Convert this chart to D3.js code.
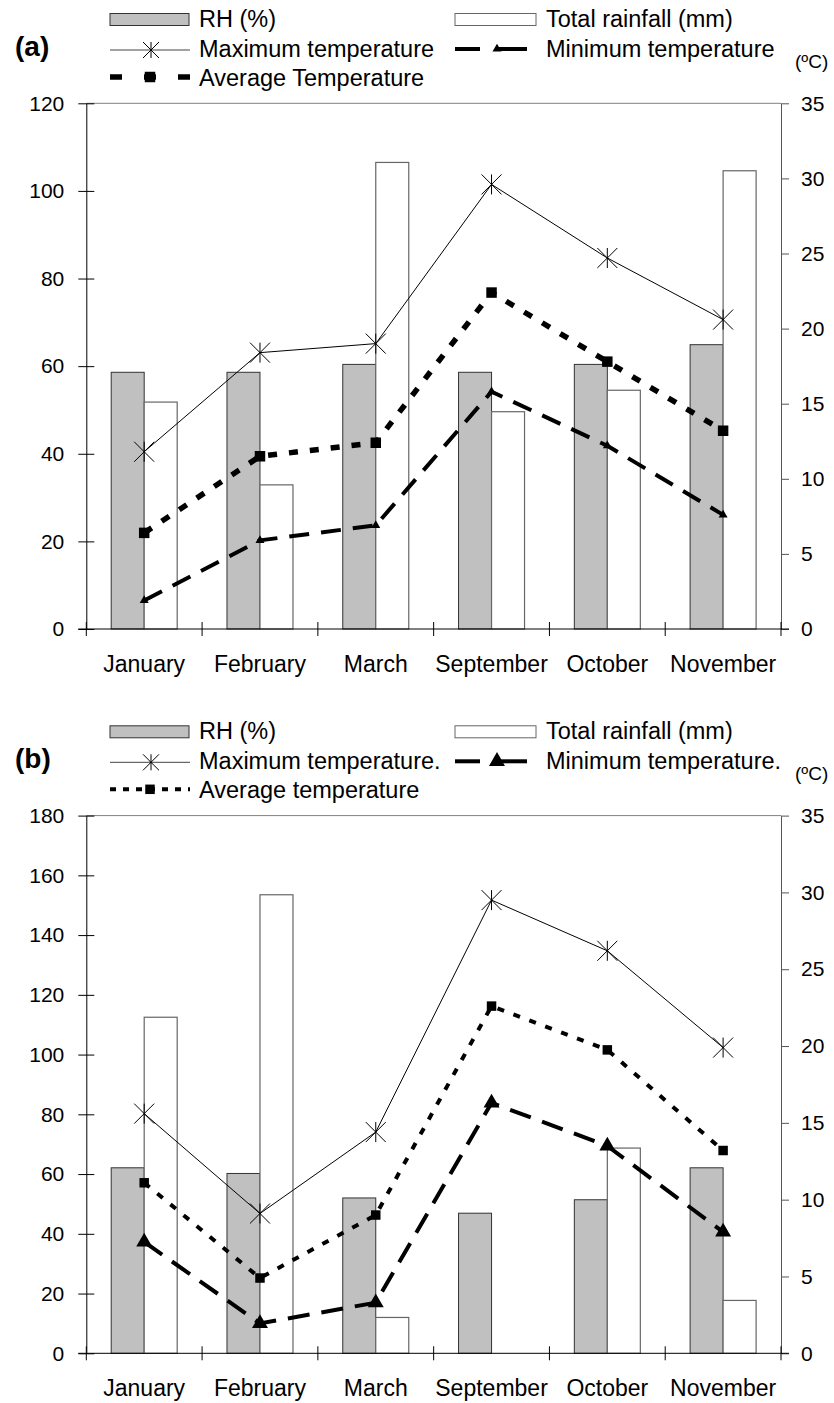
<!DOCTYPE html>
<html>
<head>
<meta charset="utf-8">
<script src="https://cdn.jsdelivr.net/npm/d3@7"></script>
<style>
  body { margin: 0; background: #fff; }
  svg { display: block; font-family: "Liberation Sans", Arial, sans-serif; }
</style>
</head>
<body>
<svg id="chart" width="834" height="1403"></svg>
<script>
// months shown on the x axis (same in both panels)
const months = ["January", "February", "March", "September", "October", "November"];

// panel (a)
const rhA = [58.6, 58.6, 60.4, 58.6, 60.4, 64.9];
const rainA = [51.8, 32.9, 106.5, 49.6, 54.5, 104.6];
const maxA = [11.8, 18.4, 19.0, 29.6, 24.7, 20.6];
const minA = [1.9, 5.9, 6.9, 15.8, 12.2, 7.6];
const avgA = [6.4, 11.5, 12.4, 22.4, 17.8, 13.2];

// panel (b)
const rhB = [62.1, 60.2, 52.0, 46.9, 51.4, 62.1];
const rainB = [112.5, 153.5, 12.0, 0, 68.7, 17.7];
const maxB = [15.6, 9.1, 14.4, 29.5, 26.2, 19.9];
const minB = [7.25, 1.94, 3.3, 16.3, 13.5, 7.9];
const avgB = [11.1, 4.9, 9.0, 22.6, 19.75, 13.2];

const leftTicksA = [0, 20, 40, 60, 80, 100, 120];
const leftTicksB = [0, 20, 40, 60, 80, 100, 120, 140, 160, 180];
const rightTicks = [0, 5, 10, 15, 20, 25, 30, 35];

const svg = d3.select("#chart");
const LEFT = 86.3, RIGHT = 781;

function starPath(r) {
  return "M" + -r + "," + -r + "L" + r + "," + r +
    "M" + -r + "," + r + "L" + r + "," + -r +
    "M0," + -r + "L0," + r;
}

function drawPanel(cfg) {
  var g = svg.append("g");
  var top = cfg.top, bottom = cfg.bottom;

  var x = d3.scaleBand().domain(months).range([LEFT, RIGHT])
    .paddingInner(0.43).paddingOuter(0.215);
  var xSub = d3.scaleBand().domain(["rh", "rain"]).range([0, x.bandwidth()]);
  var yL = d3.scaleLinear().domain([0, cfg.leftMax]).range([bottom, top]);
  var yR = d3.scaleLinear().domain([0, 35]).range([bottom, top]);
  var cx = function (m) { return x(m) + x.bandwidth() / 2; };

  // top frame line
  g.append("line")
    .attr("x1", LEFT).attr("x2", RIGHT).attr("y1", top).attr("y2", top)
    .attr("stroke", "#808080").attr("stroke-width", 1);

  // bars
  g.selectAll(".rh").data(months).join("rect")
    .attr("x", function (m) { return x(m) + xSub("rh"); })
    .attr("y", function (m, i) { return yL(cfg.rh[i]); })
    .attr("width", xSub.bandwidth())
    .attr("height", function (m, i) { return bottom - yL(cfg.rh[i]); })
    .attr("fill", "#c0c0c0").attr("stroke", "#333").attr("stroke-width", 1);

  g.selectAll(".rain").data(months.filter(function (m, i) { return cfg.rain[i] > 0; }))
    .join("rect")
    .attr("x", function (m) { return x(m) + xSub("rain"); })
    .attr("y", function (m) { return yL(cfg.rain[months.indexOf(m)]); })
    .attr("width", xSub.bandwidth())
    .attr("height", function (m) { return bottom - yL(cfg.rain[months.indexOf(m)]); })
    .attr("fill", "#fff").attr("stroke", "#666").attr("stroke-width", 1.2);

  // axes
  var axL = g.append("g").attr("transform", "translate(" + LEFT + ",0)")
    .call(d3.axisLeft(yL).tickValues(cfg.leftTicks).tickSize(8).tickPadding(14).tickSizeOuter(0));
  axL.select(".domain").attr("stroke", "#000");
  axL.selectAll(".tick line").attr("x2", 8).attr("x1", -8);

  var axR = g.append("g").attr("transform", "translate(" + RIGHT + ",0)")
    .call(d3.axisRight(yR).tickValues(rightTicks).tickSize(8).tickPadding(12).tickSizeOuter(0));
  axR.select(".domain").attr("stroke", "#555");
  axR.selectAll(".tick line").attr("stroke", "#555");

  [axL, axR].forEach(function (a) {
    a.selectAll("text").attr("font-size", 21).attr("fill", "#000")
      .attr("font-family", "Liberation Sans, Arial, sans-serif");
  });

  // x axis line and boundary ticks
  g.append("line").attr("x1", LEFT - 8).attr("x2", RIGHT + 8)
    .attr("y1", bottom).attr("y2", bottom).attr("stroke", "#000");
  var bounds = months.map(function (m) { return x(m) - x.step() * 0.215; }).concat([RIGHT]);
  g.selectAll(".xt").data(bounds).join("line")
    .attr("x1", function (d) { return d; }).attr("x2", function (d) { return d; })
    .attr("y1", bottom - 7).attr("y2", bottom + 7).attr("stroke", "#000");
  g.selectAll(".xl").data(months).join("text")
    .attr("x", cx).attr("y", bottom + 43).attr("text-anchor", "middle")
    .attr("font-size", 23).text(function (m) { return m; });

  // lines
  function series(vals, style) {
    var line = d3.line().x(function (d, i) { return cx(months[i]); })
      .y(function (d) { return yR(d); });
    g.append("path").datum(vals).attr("d", line).attr("fill", "none")
      .attr("stroke", "#000").attr("stroke-width", style.width)
      .attr("stroke-dasharray", style.dash || null);
    g.selectAll(null).data(vals).join("path")
      .attr("transform", function (d, i) { return "translate(" + cx(months[i]) + "," + yR(d) + ")"; })
      .attr("d", style.marker)
      .attr("fill", style.fill).attr("stroke", "#000").attr("stroke-width", style.mw || 0);
  }
  series(cfg.max, { width: 1, marker: starPath(10), fill: "none", mw: 1 });
  series(cfg.min, cfg.minStyle);
  series(cfg.avg, cfg.avgStyle);

  // legend
  var ly = cfg.legendY;
  var lg = g.append("g").attr("font-size", 23.5);
  lg.append("rect").attr("x", 110).attr("y", ly + 13.5).attr("width", 79).attr("height", 12)
    .attr("fill", "#c0c0c0").attr("stroke", "#333");
  lg.append("text").attr("x", 199).attr("y", ly + 27).text("RH (%)");
  lg.append("rect").attr("x", 455).attr("y", ly + 13.5).attr("width", 81).attr("height", 12)
    .attr("fill", "#fff").attr("stroke", "#666");
  lg.append("text").attr("x", 546).attr("y", ly + 27).text("Total rainfall (mm)");

  lg.append("line").attr("x1", 110).attr("x2", 190).attr("y1", ly + 50).attr("y2", ly + 50)
    .attr("stroke", "#444").attr("stroke-width", 1);
  lg.append("path").attr("transform", "translate(151," + (ly + 50) + ")")
    .attr("d", starPath(8)).attr("stroke", "#000").attr("fill", "none");
  lg.append("text").attr("x", 199).attr("y", ly + 57).text(cfg.maxLabel);

  lg.append("line").attr("x1", 455).attr("x2", 480).attr("y1", ly + 49).attr("y2", ly + 49)
    .attr("stroke", "#000").attr("stroke-width", 4);
  lg.append("line").attr("x1", 495).attr("x2", 527).attr("y1", ly + 49).attr("y2", ly + 49)
    .attr("stroke", "#000").attr("stroke-width", 4);
  lg.append("path").attr("transform", "translate(497," + (ly + 49) + ")")
    .attr("d", cfg.minStyle.marker).attr("fill", "#000");
  lg.append("text").attr("x", 546).attr("y", ly + 57).text(cfg.minLabel);

  lg.append("line").attr("x1", 110).attr("x2", 190).attr("y1", ly + 77).attr("y2", ly + 77)
    .attr("stroke", "#000").attr("stroke-width", cfg.avgStyle.width)
    .attr("stroke-dasharray", cfg.avgStyle.legendDash);
  lg.append("path").attr("transform", "translate(150," + (ly + 77) + ")")
    .attr("d", cfg.avgStyle.marker).attr("fill", "#000");
  lg.append("text").attr("x", 199).attr("y", ly + 86).text(cfg.avgLabel);

  g.append("text").attr("x", 15).attr("y", ly + 56).attr("font-size", 28)
    .attr("font-weight", "bold").text(cfg.label);
  g.append("text").attr("x", 795).attr("y", ly + 68).attr("font-size", 19).text("(ºC)");
}

drawPanel({
  top: 103.3, bottom: 629, leftMax: 120, leftTicks: leftTicksA, legendY: 0,
  rh: rhA, rain: rainA, max: maxA, min: minA, avg: avgA, label: "(a)",
  maxLabel: "Maximum temperature", minLabel: "Minimum temperature",
  avgLabel: "Average Temperature",
  minStyle: { width: 4, dash: "20,12", marker: d3.symbol(d3.symbolTriangle, 35)(), fill: "#000" },
  avgStyle: { width: 5.5, dash: "9,12", legendDash: "12,22", marker: d3.symbol(d3.symbolSquare, 110)(), fill: "#000" }
});

drawPanel({
  top: 815.6, bottom: 1353.3, leftMax: 180, leftTicks: leftTicksB, legendY: 712.3,
  rh: rhB, rain: rainB, max: maxB, min: minB, avg: avgB, label: "(b)",
  maxLabel: "Maximum temperature.", minLabel: "Minimum temperature.",
  avgLabel: "Average temperature",
  minStyle: { width: 4, dash: "22,12", marker: d3.symbol(d3.symbolTriangle, 110)(), fill: "#000" },
  avgStyle: { width: 4, dash: "7,10", legendDash: "6,7", marker: d3.symbol(d3.symbolSquare, 90)(), fill: "#000" }
});
</script>
</body>
</html>
